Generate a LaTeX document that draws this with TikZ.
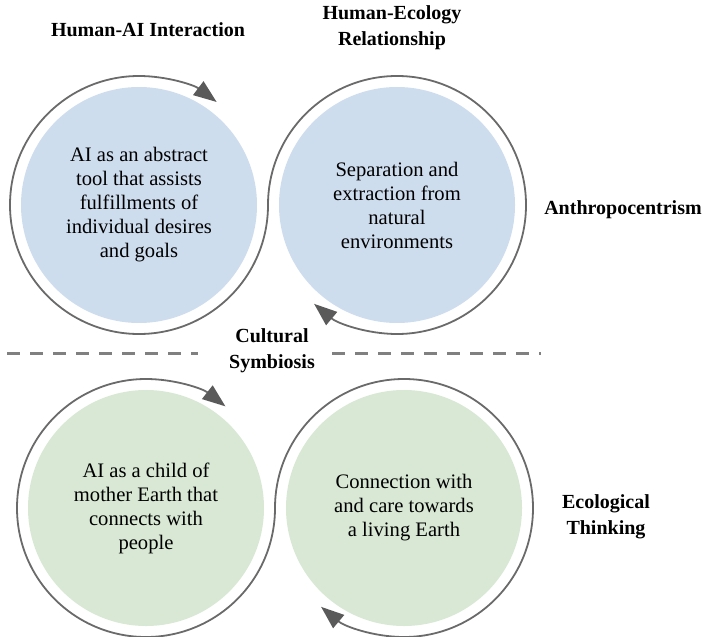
\documentclass[tikz,border=0pt]{standalone}
\usepackage{fontspec}
\setmainfont{Liberation Serif}
\usetikzlibrary{arrows.meta,calc}
\definecolor{cblue}{HTML}{CEDDEE}
\definecolor{cgreen}{HTML}{D8E8D4}
\definecolor{ringgray}{HTML}{6A6A6A}
\definecolor{tipgray}{HTML}{5A5A5A}
\definecolor{dashgray}{HTML}{808080}
\tikzset{
  disc/.style={circle, minimum size=236pt, inner sep=0pt, align=center,
    font=\fontsize{20.6}{24}\selectfont},
  ring/.style={draw=ringgray, line width=1.8pt,
    -{Triangle[length=23pt,width=17pt,color=tipgray]}},
  lab/.style={align=center, font=\bfseries\fontsize{20}{26}\selectfont},
  divider/.style={dashgray, line width=3pt, dash pattern=on 13pt off 10pt},
}
\begin{document}
\begin{tikzpicture}[x=1pt,y=-1pt]
\useasboundingbox (0,0) rectangle (708,636);
% circles
\node[disc, fill=cblue] (c1) at (139,205) {AI as an abstract\\tool that assists\\fulfillments of\\individual desires\\and goals};
\node[disc, fill=cblue] (c2) at (397,205) {Separation and\\extraction from\\natural\\environments};
\node[disc, fill=cgreen] (c3) at (146,508) {AI as a child of\\mother Earth that\\connects with\\people};
\node[disc, fill=cgreen] (c4) at (404,508) {Connection with\\and care towards\\a living Earth};
% rings
\draw[ring] ($(c1.center)+(0:129pt)$) arc[start angle=0, end angle=-307, radius=129pt];
\draw[ring] ($(c2.center)+(180:129pt)$) arc[start angle=180, end angle=-130, radius=129pt];
\draw[ring] ($(c3.center)+(0:129pt)$) arc[start angle=0, end angle=-308, radius=129pt];
\draw[ring] ($(c4.center)+(180:129pt)$) arc[start angle=180, end angle=-130, radius=129pt];
% dashed divider
\coordinate (dl) at (7,353);
\coordinate (dm1) at (198,353);
\coordinate (dm2) at (332,353);
\coordinate (dr) at (541,353);
\draw[divider] (dl) -- (dm1);
\draw[divider] (dm2) -- (dr);
% labels
\node[lab] (h1) at (148,30) {Human-AI Interaction};
\node[lab] (h2) at (392,28) {Human-Ecology\\Relationship};
\node[lab] (an) at (623,210) {Anthropocentrism};
\node[lab] (cs) at (272,351) {Cultural\\Symbiosis};
\node[lab] (ec) at (606,517) {Ecological\\Thinking};
\end{tikzpicture}
\end{document}
